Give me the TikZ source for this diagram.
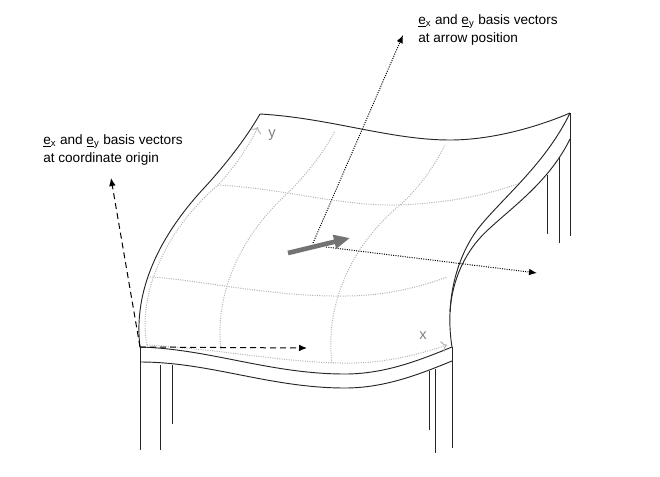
\documentclass[tikz,border=0pt]{standalone}
\usepackage{fontspec}
\setmainfont{Liberation Sans}
\usetikzlibrary{arrows.meta}
\tikzset{
  edge/.style={line width=.7pt, black!85},
  gridline/.style={line width=.75pt, black!30, densely dotted},
  basis/.style={line width=.75pt, -{Latex[length=6pt,width=5pt]}},
  caption/.style={anchor=west, align=left, inner sep=0pt, font=\fontsize{10.2}{13.5}\selectfont},
  axis/.style={text=black!50, inner sep=0pt, font=\fontsize{11}{12}\selectfont}
}
\newcommand{\ebasis}[1]{\underline{e}\textsubscript{#1}}
\begin{document}
\begin{tikzpicture}[x=.75pt, y=-.75pt]
  \useasboundingbox (0,0) rectangle (660,476);
  % corners of the sheet
  \coordinate (O) at (140,347);
  \coordinate (X) at (452,347);
  \coordinate (Y) at (260,114);
  \coordinate (XY) at (570,113);
  \coordinate (O2) at (140,362);
  \coordinate (X2) at (452,361);
  \coordinate (XY2) at (570,139);
  % sheet outline
  \draw [edge] (O) .. controls (133,290) and (160,235) .. (205,187) .. controls (225,165) and (245,140) .. (Y);
  \draw [edge] (Y) .. controls (330,118) and (390,140) .. (450,140) .. controls (490,140) and (535,128) .. (XY);
  \draw [edge] (O) .. controls (210,349) and (270,374) .. (345,374) .. controls (385,374) and (420,360) .. (X);
  \draw [edge] (O2) .. controls (210,362) and (270,388) .. (345,388) .. controls (385,388) and (420,374) .. (X2);
  \draw [edge] (X) .. controls (446,310) and (452,265) .. (477,230) .. controls (500,200) and (545,165) .. (XY);
  \draw [edge] (450,312) .. controls (452,280) and (465,250) .. (490,228) .. controls (515,205) and (550,180) .. (XY2);
  % legs
  \draw [edge] (O) -- (140,450);
  \draw [edge] (160,365) -- (160,450);
  \draw [edge] (172,365) -- (172,424);
  \draw [edge] (429,371) -- (429,430);
  \draw [edge] (435,369) -- (435,453);
  \draw [edge] (X) -- (452,448);
  \draw [edge] (XY) -- (570,236);
  \draw [edge] (559,157) -- (559,243);
  \draw [edge] (547,175) -- (547,234);
  % grid on the sheet
  \draw [gridline, -{To[length=4pt]}] (147,345) .. controls (230,350) and (290,364) .. (355,363) .. controls (390,362) and (420,354) .. (447,345);
  \draw [gridline] (150,277) .. controls (195,279) and (270,297) .. (345,296) .. controls (385,296) and (420,287) .. (447,277);
  \draw [gridline] (218,185) .. controls (280,188) and (340,206) .. (395,205) .. controls (440,204) and (485,196) .. (517,184);
  \draw [gridline, -{To[length=4pt]}] (147,345) .. controls (138,300) and (160,235) .. (218,185) .. controls (232,170) and (248,148) .. (258,127);
  \draw [gridline] (221,349) .. controls (215,300) and (235,240) .. (290,191) .. controls (310,170) and (325,150) .. (335,131);
  \draw [gridline] (332,363) .. controls (326,320) and (340,255) .. (400,205) .. controls (420,187) and (435,165) .. (445,145);
  \node [axis] (xlabel) at (423,336) {x};
  \node [axis] (ylabel) at (272,135) {y};
  % basis vectors
  \coordinate (Otip) at (111,178);
  \coordinate (Ptip) at (403,35);
  \coordinate (Qtip) at (537,273);
  \coordinate (Rtip) at (307,348);
  \coordinate (P) at (313,243);
  \coordinate (Q) at (326,247);
  \draw [basis, dash pattern=on 4.5pt off 3pt] (O) -- (Otip);
  \draw [basis, dash pattern=on 4.5pt off 3pt] (O) -- (Rtip);
  \draw [basis, densely dotted] (P) -- (Ptip);
  \draw [basis, densely dotted] (Q) -- (Qtip);
  % moving arrow
  \coordinate (A) at (288,253);
  \coordinate (B) at (350,238);
  \draw [line width=3.5pt, black!55, -{Triangle[length=12pt,width=10pt]}] (A) -- (B);
  \node [caption] (origin) at (43,149.5) {\ebasis{x} and \ebasis{y} basis vectors\\at coordinate origin};
  \node [caption] (arrow) at (418,30) {\ebasis{x} and \ebasis{y} basis vectors\\at arrow position};
\end{tikzpicture}
\end{document}
